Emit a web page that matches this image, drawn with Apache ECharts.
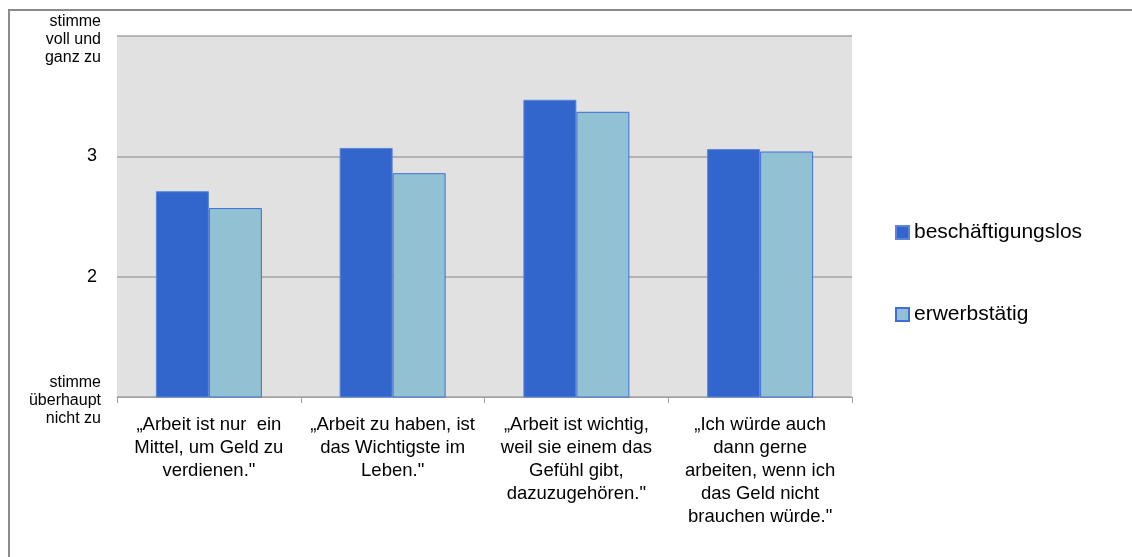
<!DOCTYPE html>
<html>
<head>
<meta charset="utf-8">
<script src="https://cdn.jsdelivr.net/npm/echarts@6/dist/echarts.min.js"></script>
<style>
html,body{margin:0;padding:0;background:#fff;}
#c{width:1132px;height:557px;}
</style>
</head>
<body>
<div id="c"></div>
<script>
const categories = [
  "„Arbeit ist nur  ein\nMittel, um Geld zu\nverdienen.\"",
  "„Arbeit zu haben, ist\ndas Wichtigste im\nLeben.\"",
  "„Arbeit ist wichtig,\nweil sie einem das\nGefühl gibt,\ndazuzugehören.\"",
  "„Ich würde auch\ndann gerne\narbeiten, wenn ich\ndas Geld nicht\nbrauchen würde.\""
];
const seriesNames = ["beschäftigungslos", "erwerbstätig"];
const beschaeftigungslos = [2.71, 3.07, 3.47, 3.06];
const erwerbstaetig = [2.57, 2.86, 3.37, 3.04];
const yTickLabels = {1: "stimme\nüberhaupt\nnicht zu", 2: "2", 3: "3", 4: "stimme\nvoll und\nganz zu"};

const FONT = "Liberation Sans, Arial, sans-serif";
const chart = echarts.init(document.getElementById('c'), null, {renderer: 'canvas'});
chart.setOption({
  animation: false,
  backgroundColor: '#ffffff',
  textStyle: {fontFamily: FONT},
  graphic: [{
    type: 'polyline',
    shape: {points: [[9, 557], [9, 10], [1132, 10]]},
    style: {stroke: '#8a8a8a', lineWidth: 2, fill: null}
  }],
  grid: {left: 117, right: 280, top: 36, bottom: 160, show: true, backgroundColor: '#e1e1e1', borderWidth: 0},
  legend: {
    orient: 'vertical',
    left: 895,
    top: 222,
    padding: 0,
    itemWidth: 13,
    itemHeight: 13,
    itemGap: 61,
    icon: 'rect',
    textStyle: {fontFamily: FONT, fontSize: 21, color: '#000', padding: [0, 0, 0, 0]},
    data: seriesNames
  },
  xAxis: {
    type: 'category',
    data: categories,
    axisLine: {show: true, lineStyle: {color: '#a0a0a0', width: 1}},
    axisTick: {show: true, length: 6, lineStyle: {color: '#a0a0a0'}},
    axisLabel: {fontFamily: FONT, fontSize: 18.5, color: '#000', lineHeight: 23, margin: 16, interval: 0, align: 'center'}
  },
  yAxis: {
    type: 'value',
    min: 1,
    max: 4,
    interval: 1,
    axisLine: {show: false},
    axisTick: {show: false},
    splitLine: {show: true, lineStyle: {color: '#a4a4a4', width: 1.5}},
    axisLabel: {
      margin: 16,
      formatter: function (v) {
        const t = yTickLabels[v];
        if (v === 2 || v === 3) return '{n|' + t + '}';
        return '{g| }\n' + t.split('\n').map(s => '{s|' + s + '}').join('\n');
      },
      rich: {
        n: {fontFamily: FONT, fontSize: 18, color: '#000', padding: [0, 4, 0, 0]},
        g: {fontSize: 1, lineHeight: 8, height: 8},
        s: {fontFamily: FONT, fontSize: 16, color: '#000', lineHeight: 18}
      }
    }
  },
  series: [
    {
      name: seriesNames[0], type: 'bar', data: beschaeftigungslos,
      barWidth: 53, barGap: '0%',
      itemStyle: {color: '#3366cc', borderColor: '#5b84dc', borderWidth: 1}
    },
    {
      name: seriesNames[1], type: 'bar', data: erwerbstaetig,
      barWidth: 53, barGap: '0%',
      itemStyle: {color: '#92c1d3', borderColor: '#3f6fd6', borderWidth: 1}
    }
  ]
});
</script>
</body>
</html>
